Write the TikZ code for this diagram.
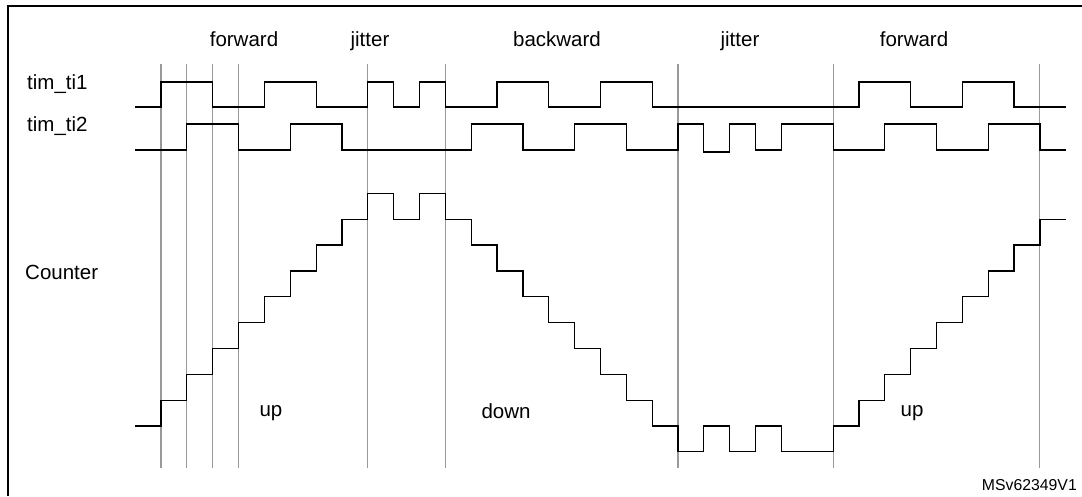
\documentclass[tikz,border=0pt]{standalone}
\usepackage{fontspec}
\setmainfont{Liberation Sans}
\usepackage{tikz}
\usetikzlibrary{positioning}
\usepackage{xcolor}
\definecolor{gridgray}{RGB}{153, 153, 153}

\tikzset{
  wave/.style={black, line width=1.2pt},
  tickline/.style={gridgray, line width=1.1pt},
  lbl/.style={font=\fontsize{20.5}{24}\selectfont, inner sep=0pt},
  reflbl/.style={font=\fontsize{15.8}{18}\selectfont, inner sep=0pt}
}

\begin{document}
\begin{tikzpicture}[x=1pt, y=-1pt]
      \useasboundingbox (0,0) rectangle (1082,496);
      % frame
      \draw[line width=2.6pt] (8,496) -- (8,6) -- (1082,6);
      % phase labels
      \node[lbl, anchor=base] (lbl-fwd1) at (244,46.5) {forward};
      \node[lbl, anchor=base] (lbl-jit1) at (370,46.5) {jitter};
      \node[lbl, anchor=base] (lbl-bwd) at (557,46.5) {backward};
      \node[lbl, anchor=base] (lbl-jit2) at (740,46.5) {jitter};
      \node[lbl, anchor=base] (lbl-fwd2) at (914,46.5) {forward};
      % signal names
      \node[lbl, anchor=base west] (lbl-ti1) at (27,89) {tim\_ti1};
      \node[lbl, anchor=base west] (lbl-ti2) at (27,131) {tim\_ti2};
      \node[lbl, anchor=base west] (lbl-cnt) at (25,279) {Counter};
      % direction labels
      \node[lbl, anchor=base] (lbl-up1) at (271,416) {up};
      \node[lbl, anchor=base] (lbl-down) at (506,418) {down};
      \node[lbl, anchor=base] (lbl-up2) at (912,416) {up};
      \node[reflbl, anchor=base east] (lbl-ref) at (1077,490) {MSv62349V1};
      % time axis: one step = one edge
      \begin{scope}[xshift=161pt, x=25.85pt]
        \foreach \t in {0,1,2,3,8,11,20,26,34}
          \draw[tickline] (\t,64) -- (\t,468);
        % tim_ti1
        \draw[wave] (-1,107) -| (0,82) -| (2,107) -| (4,82) -| (6,107) -| (8,82)
          -| (9,107) -| (10,82) -| (11,107) -| (13,82) -| (15,107) -| (17,82)
          -| (19,107) -| (27,82) -| (29,107) -| (31,82) -| (33,107) -- (35,107);
        % tim_ti2
        \draw[wave] (-1,150) -| (1,124) -| (3,150) -| (5,124) -| (7,150) -| (12,124)
          -| (14,150) -| (16,124) -| (18,150) -| (20,124) -| (21,152) -| (22,124)
          -| (23,150) -| (24,124) -| (26,150) -| (28,124) -| (30,150) -| (32,124)
          -| (34,150) -- (35,150);
      \end{scope}
      % counter: one level = one count
      \begin{scope}[xshift=161pt, x=25.85pt, yshift=-426pt, y=25.85pt]
        \draw[wave] (-1,0) -| (0,1) -| (1,2) -| (2,3) -| (3,4) -| (4,5) -| (5,6)
          -| (6,7) -| (7,8) -| (8,9) -| (9,8) -| (10,9) -| (11,8) -| (12,7)
          -| (13,6) -| (14,5) -| (15,4) -| (16,3) -| (17,2) -| (18,1) -| (19,0)
          -| (20,-1) -| (21,0) -| (22,-1) -| (23,0) -| (24,-1) -| (26,0) -| (27,1)
          -| (28,2) -| (29,3) -| (30,4) -| (31,5) -| (32,6) -| (33,7) -| (34,8)
          -- (35,8);
      \end{scope}
    \end{tikzpicture}
\end{document}
